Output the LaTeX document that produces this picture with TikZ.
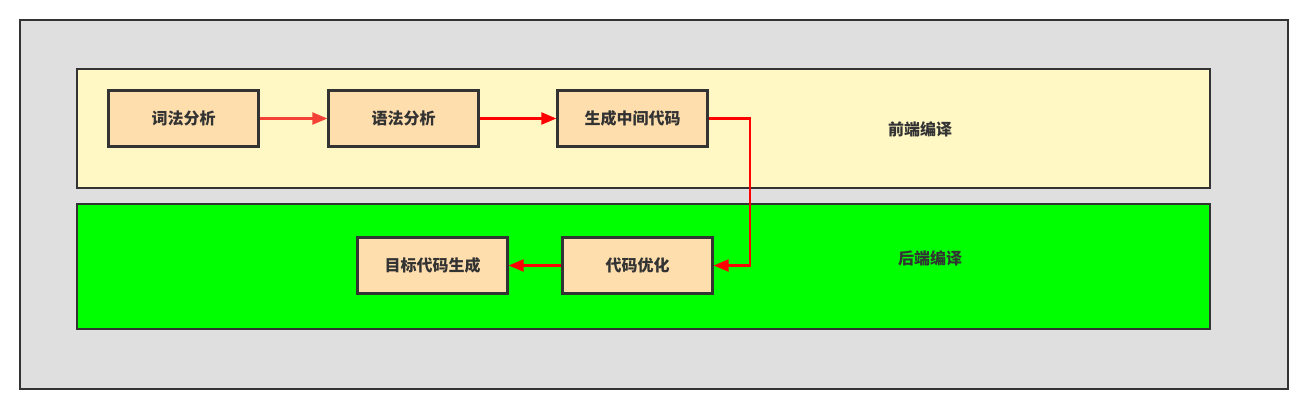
\documentclass[tikz,border=0pt]{standalone}
\usepackage{fontspec}
\newfontfamily\cjk{Noto Sans CJK SC}
\usetikzlibrary{arrows.meta}
\definecolor{edge}{HTML}{333333}
\definecolor{outerfill}{HTML}{DFDFDF}
\definecolor{frontfill}{HTML}{FFF8C4}
\definecolor{backfill}{HTML}{00FF00}
\definecolor{boxfill}{HTML}{FFDEAD}
\definecolor{lightred}{HTML}{F44336}
\tikzset{
  panel/.style={draw=edge, line width=2.3pt},
  stage/.style={draw=edge, line width=2.3pt, fill=boxfill, minimum width=150pt, minimum height=56pt, inner sep=0pt, font=\cjk\bfseries\fontsize{16pt}{16pt}\selectfont, text=edge},
  lbl/.style={font=\cjk\bfseries\fontsize{16pt}{16pt}\selectfont, text=edge},
  conn/.style={draw=red, line width=2.2pt, -{Triangle[length=15pt,width=12pt]}},
}
\begin{document}
\begin{tikzpicture}[x=1pt,y=-1pt]
\useasboundingbox (0,0) rectangle (1311,418);
\fill[white] (0,0) rectangle (1311,418);
\draw[panel, fill=outerfill] (20,20) rectangle (1288,389);
\draw[panel, fill=frontfill] (77,69) rectangle (1210,188);
\draw[panel, fill=backfill] (77,204) rectangle (1210,329);
\node[stage] (lex) at (183.5,118.5) {词法分析};
\node[stage] (syn) at (403.5,118.5) {语法分析};
\node[stage] (ir) at (632.5,118.5) {生成中间代码};
\node[stage] (opt) at (637.5,265.5) {代码优化};
\node[stage] (gen) at (432.5,265.5) {目标代码生成};
\node[lbl] (front) at (920,129) {前端编译};
\node[lbl] (back) at (930,258) {后端编译};
\coordinate (bend1) at (750,118.5);
\coordinate (bend2) at (750,265.5);
\draw[conn, draw=lightred, -{Triangle[length=15pt,width=12pt,fill=lightred]}] (lex) -- (syn);
\draw[conn] (syn) -- (ir);
\draw[conn] (ir.east) -- (bend1) -- (bend2) -- (opt.east);
\draw[conn] (opt) -- (gen);
\end{tikzpicture}
\end{document}
